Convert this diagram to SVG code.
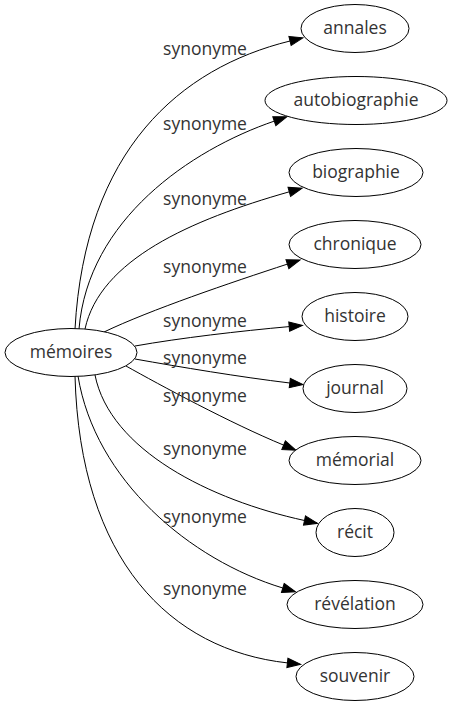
<svg xmlns="http://www.w3.org/2000/svg" width="452" height="707" viewBox="0 0 452 707">
<defs>
<style>
.n ellipse{fill:#fff;stroke:#000;stroke-width:1}
.n text,.lbl text{font-family:"Open Sans","Noto Sans","DejaVu Sans",sans-serif;font-size:17.5px;fill:#333;text-anchor:middle}
.e path{fill:none;stroke:#000;stroke-width:1;marker-end:url(#arr)}
</style>
<marker id="arr" markerUnits="userSpaceOnUse" orient="auto" markerWidth="14" markerHeight="10" refX="0" refY="5" viewBox="0 0 14 10" overflow="visible">
<path d="M0,0.3 L13.3,5 L0,9.7 z" fill="#000" stroke="#000" stroke-width="1"/>
</marker>
</defs>
<rect width="452" height="707" fill="#fff"/>
<g id="edges" class="e">
<path d="M75,329 C85,150 180,68 290,41"/>
<path d="M79,329 C88,220 190,150 274.3,121.1"/>
<path d="M85,329 C100,260 190,220 289.3,191.8"/>
<path d="M104,332 C150,310 230.4,282.7 287.4,264.1"/>
<path d="M135,346 C180,338 240,331 289.2,326.6"/>
<path d="M135,359 C180,367 240,377 289.8,383"/>
<path d="M126,366 C160,385 230,423 283.6,445.1"/>
<path d="M95,375 C110,450 210,500 304.5,520.5"/>
<path d="M78,376 C95,480 190,560 282.8,588"/>
<path d="M75,376 C80,560 170,650 287.4,662.9"/>
</g>
<g id="labels" class="lbl">
<text x="205" y="55">synonyme</text>
<text x="205" y="130">synonyme</text>
<text x="205" y="205">synonyme</text>
<text x="205" y="273">synonyme</text>
<text x="205" y="327">synonyme</text>
<text x="205" y="363.5">synonyme</text>
<text x="205" y="401.5">synonyme</text>
<text x="205" y="455">synonyme</text>
<text x="205" y="523">synonyme</text>
<text x="205" y="595">synonyme</text>
</g>
<g id="node-memoires" class="n"><ellipse cx="71" cy="352.5" rx="66" ry="24"/><text x="71" y="358">mémoires</text></g>
<g id="node-annales" class="n"><ellipse cx="355" cy="28.5" rx="54" ry="24"/><text x="355" y="34">annales</text></g>
<g id="node-autobiographie" class="n"><ellipse cx="356" cy="100.5" rx="91" ry="24"/><text x="356" y="106">autobiographie</text></g>
<g id="node-biographie" class="n"><ellipse cx="356" cy="172.5" rx="67" ry="24"/><text x="356" y="178">biographie</text></g>
<g id="node-chronique" class="n"><ellipse cx="355" cy="244.5" rx="66" ry="24"/><text x="355" y="250">chronique</text></g>
<g id="node-histoire" class="n"><ellipse cx="355" cy="316.5" rx="53" ry="24"/><text x="355" y="322">histoire</text></g>
<g id="node-journal" class="n"><ellipse cx="355" cy="388.5" rx="52" ry="24"/><text x="355" y="394">journal</text></g>
<g id="node-memorial" class="n"><ellipse cx="355" cy="460.5" rx="66" ry="24"/><text x="355" y="466">mémorial</text></g>
<g id="node-recit" class="n"><ellipse cx="355" cy="532.5" rx="39" ry="24"/><text x="355" y="538">récit</text></g>
<g id="node-revelation" class="n"><ellipse cx="355" cy="604.5" rx="68" ry="24"/><text x="355" y="610">révélation</text></g>
<g id="node-souvenir" class="n"><ellipse cx="355" cy="676.5" rx="59" ry="24"/><text x="355" y="682">souvenir</text></g>
</svg>
